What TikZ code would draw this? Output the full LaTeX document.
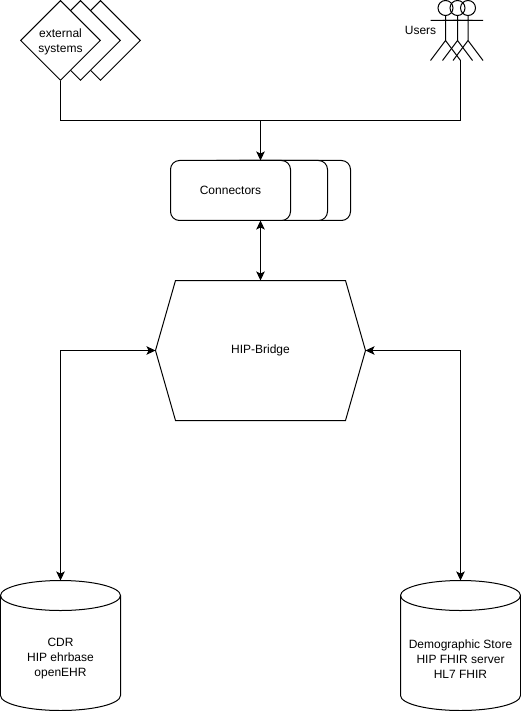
\documentclass[tikz,border=0pt]{standalone}
\usepackage{fontspec}
\setmainfont{Liberation Sans}
\usetikzlibrary{arrows.meta,shapes.geometric}
\tikzset{
  ln/.style={draw=black,line width=1pt},
  lbl/.style={font=\fontsize{12}{15}\selectfont,align=center,inner sep=0pt,text=black},
  dia/.style={ln,fill=white,diamond,aspect=1,inner sep=0pt,minimum width=80pt,minimum height=80pt},
  card/.style={ln,fill=white,rounded corners=9pt,minimum width=120pt,minimum height=60pt,inner sep=0pt},
  ghost/.style={inner sep=0pt,outer sep=0pt},
  link/.style={ln,-{Stealth[length=9pt,width=8.5pt,inset=2pt]}},
  dlink/.style={ln,{Stealth[length=9pt,width=8.5pt,inset=2pt]}-{Stealth[length=9pt,width=8.5pt,inset=2pt]}},
  plain/.style={ln},
  actor/.pic={
    \draw[ln] (0,7.5) circle (7.5pt);
    \draw[ln] (0,15) -- (0,40) (-15,20) -- (15,20) (-15,60) -- (0,40) -- (15,60);
  },
  drum/.pic={
    \draw[ln,fill=white] (-60,15) -- (-60,115) arc[start angle=180,end angle=360,x radius=60pt,y radius=15pt] -- (60,15) arc[start angle=0,end angle=180,x radius=60pt,y radius=15pt] -- cycle;
    \draw[ln] (-60,15) arc[start angle=180,end angle=360,x radius=60pt,y radius=15pt];
  }
}
\begin{document}
\begin{tikzpicture}[x=1pt,y=-1pt]
\useasboundingbox (-0.5,-0.5) rectangle (520.5,710.5);

% external systems
\node[dia] (ext3) at (100,40) {};
\node[dia] (ext2) at (80,40) {};
\node[dia] (ext) at (60,40) {};
\node[lbl] (exttext) at (60,41) {external\\systems};

% users
\pic at (467.5,0) {actor};
\pic at (457,0) {actor};
\pic at (445,0) {actor};
\node[lbl] (users) at (420,30) {Users};
\coordinate (usersfoot) at (460,60);

% connectors stack
\node[card] (c3) at (290,190) {};
\node[card] (c2) at (267,190) {};
\node[card] (c1) at (230,190) {};
\node[lbl] (conntext) at (230,189.5) {Connectors};
\node[ghost,minimum width=180pt,minimum height=60pt] (conn) at (260,190) {};

% hip bridge
\node[ghost,minimum width=210pt,minimum height=140pt] (hip) at (260,350) {};
\node[lbl] (hiptext) at (260,350) {HIP-Bridge};
\draw[ln] (175,280) -- (345,280) -- (hip.east) -- (345,420) -- (175,420) -- (hip.west) -- cycle;

% stores
\pic at (60,580) {drum};
\pic at (460,580) {drum};
\node[lbl] (cdr) at (60,658.5) {CDR\\HIP ehrbase\\openEHR};
\node[lbl] (demo) at (460,658.5) {Demographic Store\\HIP FHIR server\\HL7 FHIR};
\coordinate (cdrtop) at (60,580);
\coordinate (demotop) at (460,580);

% connectors
\coordinate (bus) at (260,120);
\draw[plain] (ext.south) |- (bus);
\draw[plain] (usersfoot) |- (bus);
\draw[link] (bus) -- (conn.north);
\draw[dlink] (conn.south) -- (hip.north);
\draw[dlink] (hip.west) -| (cdrtop);
\draw[dlink] (hip.east) -| (demotop);
\end{tikzpicture}
\end{document}
